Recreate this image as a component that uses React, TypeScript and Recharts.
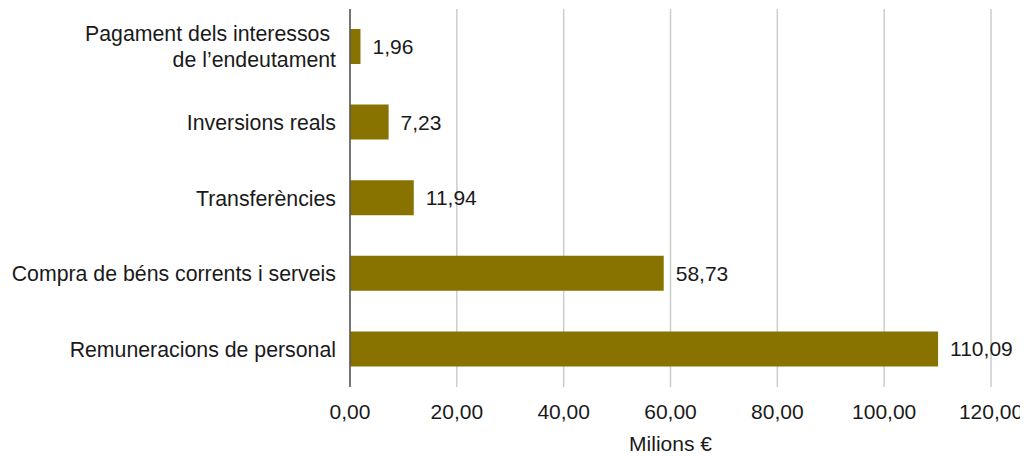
import React from 'react';
import { BarChart, Bar, XAxis, YAxis, CartesianGrid, LabelList, Label } from 'recharts';

const categories = [
  'Pagament dels interessos \nde l\u2019endeutament',
  'Inversions reals',
  'Transferències',
  'Compra de béns corrents i serveis',
  'Remuneracions de personal',
];
const values = [1.96, 7.23, 11.94, 58.73, 110.09];
const xTicks = [0, 20, 40, 60, 80, 100, 120];
const axisTitle = 'Milions €';

const data = categories.map((c, i) => ({ name: c, value: values[i] }));

const FONT = '"Liberation Sans", Arial, Helvetica, sans-serif';
const TEXT = '#1a1a1a';
const fmt = (v: number) => v.toFixed(2).replace('.', ',');

const YTick = (props: any) => {
  const { x, y, payload } = props;
  const lines = String(payload.value).split('\n');
  const lh = 26;
  const start = -((lines.length - 1) * lh) / 2;
  return (
    <text x={x} y={y} textAnchor="end" fill={TEXT} fontSize={21.3} fontFamily={FONT} style={{ whiteSpace: 'pre' }}>
      {lines.map((l, i) => (
        <tspan key={i} x={x} y={y + start + i * lh} dy="0.36em">{l}</tspan>
      ))}
    </text>
  );
};

const XTick = (props: any) => {
  const { x, y, payload } = props;
  return (
    <text x={x} y={y + 24} dy="0.36em" textAnchor="middle" fill={TEXT} fontSize={21} fontFamily={FONT}>
      {fmt(payload.value)}
    </text>
  );
};

export default function App() {
  return (
    <div style={{ width: 1020, height: 448 }}>
      <BarChart
        width={1020}
        height={448}
        data={data}
        layout="vertical"
        margin={{ top: 1, right: 37, bottom: 5, left: 0 }}
        style={{ overflow: 'visible' }}
      >
        <CartesianGrid horizontal={false} vertical={true} stroke="#cccccc" strokeWidth={1.5} />
        <XAxis
          type="number"
          domain={[0, 120]}
          ticks={xTicks}
          axisLine={false}
          tickLine={false}
          tickSize={0}
          tickMargin={0}
          height={64}
          tick={<XTick />}
          interval={0}
        >
          <Label
            value={axisTitle}
            position="insideBottom"
            offset={0}
            style={{ fontSize: 21, fontFamily: FONT, fill: TEXT }}
          />
        </XAxis>
        <YAxis
          type="category"
          dataKey="name"
          width={342}
          axisLine={{ stroke: '#555555', strokeWidth: 1.5 }}
          tickLine={false}
          tickSize={0}
          tickMargin={14}
          tick={<YTick />}
          interval={0}
        />
        <Bar dataKey="value" fill="#887200" barSize={35} isAnimationActive={false}>
          <LabelList
            dataKey="value"
            position="right"
            offset={12}
            formatter={(v: any) => fmt(Number(v))}
            style={{ fontSize: 21, fontFamily: FONT, fill: TEXT }}
          />
        </Bar>
      </BarChart>
    </div>
  );
}
